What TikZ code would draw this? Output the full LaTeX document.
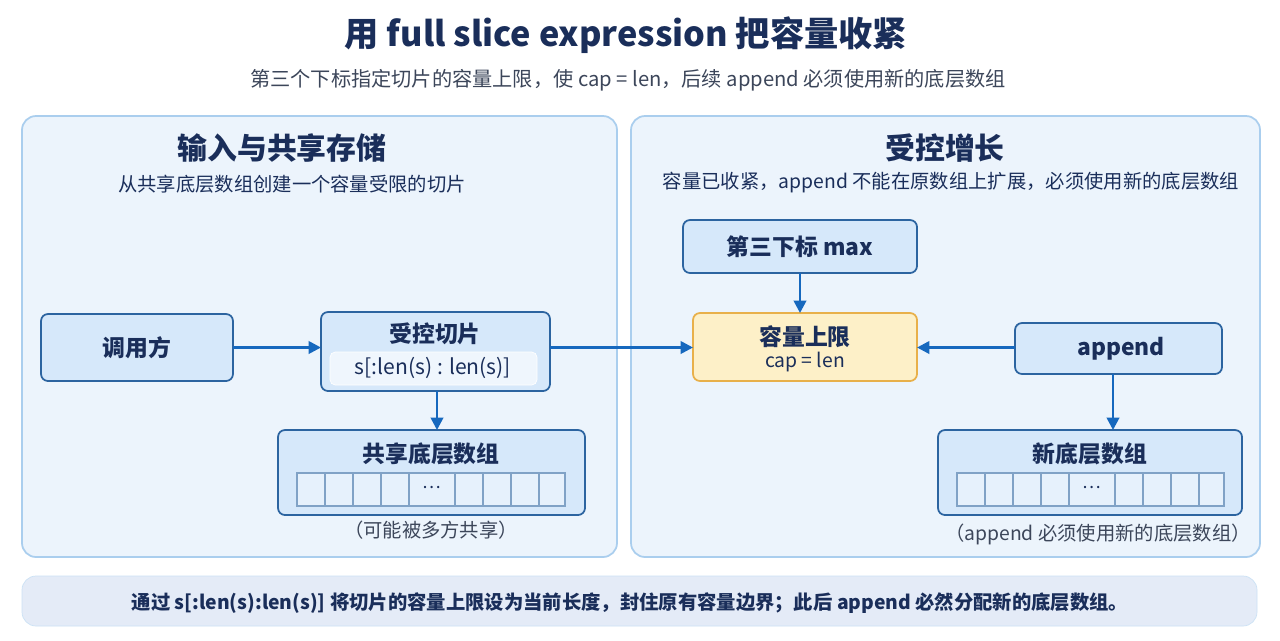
\documentclass[tikz,border=0pt]{standalone}
\usepackage{fontspec}
\setmainfont{Noto Sans CJK SC}
\usetikzlibrary{positioning,arrows.meta}
\definecolor{navy}{RGB}{26,46,90}
\definecolor{greytext}{RGB}{60,70,90}
\definecolor{panelfill}{RGB}{236,244,252}
\definecolor{panelline}{RGB}{170,206,238}
\definecolor{boxfill}{RGB}{214,232,250}
\definecolor{boxline}{RGB}{44,100,160}
\definecolor{arrowblue}{RGB}{22,104,190}
\definecolor{capfill}{RGB}{253,240,200}
\definecolor{capline}{RGB}{232,176,74}
\definecolor{footfill}{RGB}{228,235,247}
\tikzset{
  panel/.style={draw=panelline, fill=panelfill, rounded corners=8pt, line width=1pt},
  box/.style={draw=boxline, fill=boxfill, rounded corners=4pt, line width=1pt},
  flow/.style={-{Triangle[length=7pt,width=7pt]}, draw=arrowblue, line width=1.5pt},
  cell/.style={draw=boxline!60, fill=white!40!boxfill, line width=0.6pt},
  btext/.style={font=\bfseries\fontsize{13}{15}\selectfont, text=navy},
}
\begin{document}
\begin{tikzpicture}[x=0.02cm, y=-0.02cm]
\useasboundingbox[fill=white] (0,0) rectangle (1280,640);
% Title
\node[font=\bfseries\fontsize{19.5}{22}\selectfont, text=navy] (title) at (626,35) {用 full slice expression 把容量收紧};
\node[font=\fontsize{11.5}{13}\selectfont, text=greytext] (subtitle) at (628,80) {第三个下标指定切片的容量上限，使 cap = len，后续 append 必须使用新的底层数组};

% Panels
\draw[panel] (22,116) rectangle (617,557);
\draw[panel] (631,116) rectangle (1260,557);
\node[font=\bfseries\fontsize{17}{19}\selectfont, text=navy] (lhead) at (282,148) {输入与共享存储};
\node[font=\fontsize{11}{13}\selectfont, text=navy] (lsub) at (292,184) {从共享底层数组创建一个容量受限的切片};
\node[font=\bfseries\fontsize{17}{19}\selectfont, text=navy] (rhead) at (945,148) {受控增长};
\node[font=\fontsize{11}{13}\selectfont, text=navy] (rsub) at (951,183) {容量已收紧，append 不能在原数组上扩展，必须使用新的底层数组};

% Left nodes
\draw[box] (41,314) rectangle (233,381);
\node[btext] (caller) at (137,347.5) {调用方};
\coordinate (callerE) at (233,347.5);
\draw[box] (321,312) rectangle (550,391);
\node[btext] (slice) at (435,334) {受控切片};
\draw[draw=white, fill=white!60!boxfill, rounded corners=3pt] (330,352) rectangle (537,385);
\node[font=\fontsize{12}{14}\selectfont, text=navy] (expr) at (433,368) {s[:len(s) : len(s)]};
\coordinate (sliceW) at (321,347.5);
\coordinate (sliceE) at (550,347.5);
\coordinate (sliceS) at (437,391);
\draw[box] (278,430) rectangle (585,515);
\node[btext] (shared) at (431,454) {共享底层数组};
\coordinate (sharedN) at (437,430);
\foreach \a/\b in {297/325,325/353,353/381,381/409,409/455,455/483,483/511,511/539,539/565}
  \draw[cell] (\a,473) rectangle (\b,506);
\node[text=navy] (ldots) at (432,487) {\dots};
\node[font=\fontsize{11}{13}\selectfont, text=greytext] (lnote) at (431,530) {（可能被多方共享）};

% Right nodes
\draw[box] (683,220) rectangle (917,273);
\node[btext] (max) at (800,246.5) {第三下标 max};
\coordinate (maxS) at (800,273);
\draw[draw=capline, fill=capfill, rounded corners=4pt, line width=1pt] (693,313) rectangle (917,381);
\node[btext] (cap) at (805,337) {容量上限};
\node[font=\fontsize{11}{13}\selectfont, text=navy] (capsub) at (805,362) {cap = len};
\coordinate (capN) at (800,313);
\coordinate (capW) at (693,347.5);
\coordinate (capE) at (917,347.5);
\draw[box] (1015,323) rectangle (1222,374);
\node[btext] (append) at (1121,348.5) {append};
\coordinate (appendW) at (1015,347.5);
\coordinate (appendS) at (1113,374);
\draw[box] (938,430) rectangle (1242,515);
\node[btext] (newarr) at (1090,454) {新底层数组};
\coordinate (newN) at (1113,430);
\foreach \a/\b in {957/985,985/1013,1013/1041,1041/1069,1069/1115,1115/1143,1143/1171,1171/1199,1199/1224}
  \draw[cell] (\a,473) rectangle (\b,506);
\node[text=navy] (rdots) at (1092,487) {\dots};
\node[font=\fontsize{11}{13}\selectfont, text=greytext] (rnote) at (1098,534) {（append 必须使用新的底层数组）};

% Arrows
\draw[flow] (callerE) -- (sliceW);
\draw[flow] (sliceE) -- (capW);
\draw[flow] (sliceS) -- (sharedN);
\draw[flow] (maxS) -- (capN);
\draw[flow] (appendW) -- (capE);
\draw[flow] (appendS) -- (newN);

% Footer
\draw[draw=panelline!60, fill=footfill, rounded corners=8pt] (22,576) rectangle (1257,626);
\node[font=\bfseries\fontsize{11}{13}\selectfont, text=navy] (foot) at (630,603) {通过 s[:len(s):len(s)] 将切片的容量上限设为当前长度，封住原有容量边界；此后 append 必然分配新的底层数组。};
\end{tikzpicture}
\end{document}
